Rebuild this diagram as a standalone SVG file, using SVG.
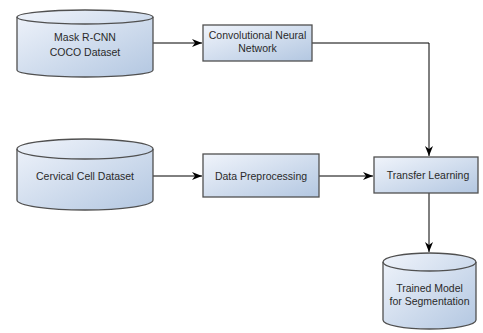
<svg xmlns="http://www.w3.org/2000/svg" width="483" height="333" viewBox="0 0 483 333">
<style>
.shape{fill:url(#g);stroke:#505050;stroke-width:1.3}
.edge{fill:none;stroke:#000;stroke-width:1}
text{font-family:"Liberation Sans",Arial,sans-serif;font-size:10.5px;fill:#2a2a2a;text-anchor:middle}
</style>
<defs>
<linearGradient id="g" x1="0" y1="0" x2="1" y2="1">
<stop offset="0" stop-color="#f0f4fb"/>
<stop offset="1" stop-color="#b3c7e1"/>
</linearGradient>
<marker id="ah" markerUnits="userSpaceOnUse" markerWidth="11" markerHeight="9" refX="10" refY="4" orient="auto">
<path d="M0,0 L10,4 L0,8 L3,4 Z" fill="#000"/>
</marker>
</defs>
<rect width="483" height="333" fill="#fff"/>
<g id="connectors">
<path class="edge" d="M153,43 H202" marker-end="url(#ah)"/>
<path class="edge" d="M312,43 H429 V156" marker-end="url(#ah)"/>
<path class="edge" d="M153,176 H202" marker-end="url(#ah)"/>
<path class="edge" d="M319,176 H373" marker-end="url(#ah)"/>
<path class="edge" d="M429,193 V252" marker-end="url(#ah)"/>
</g>
<g id="mask-rcnn">
<path class="shape" d="M17,17 A68,7 0 0 1 153,17 L153,70 A68,7 0 0 1 17,70 Z"/>
<path class="shape" style="fill:none" d="M17,17 A68,7 0 0 0 153,17"/>
<text x="85" y="41">Mask R-CNN</text>
<text x="85" y="56">COCO Dataset</text>
</g>
<g id="cnn">
<rect class="shape" x="203" y="25" width="109" height="36"/>
<text x="257.5" y="39">Convolutional Neural</text>
<text x="257.5" y="52">Network</text>
</g>
<g id="cervical">
<path class="shape" d="M17,149 A68,10 0 0 1 153,149 L153,200 A68,10 0 0 1 17,200 Z"/>
<path class="shape" style="fill:none" d="M17,149 A68,10 0 0 0 153,149"/>
<text x="85" y="180">Cervical Cell Dataset</text>
</g>
<g id="preprocessing">
<rect class="shape" x="203" y="154" width="116" height="43"/>
<text x="261" y="180">Data Preprocessing</text>
</g>
<g id="transfer">
<rect class="shape" x="374" y="157" width="104" height="36"/>
<text x="428" y="179">Transfer Learning</text>
</g>
<g id="trained">
<path class="shape" d="M383,262 A46.5,9 0 0 1 476,262 L476,320 A46.5,9 0 0 1 383,320 Z"/>
<path class="shape" style="fill:none" d="M383,262 A46.5,9 0 0 0 476,262"/>
<text x="429.5" y="292">Trained Model</text>
<text x="429.5" y="305">for Segmentation</text>
</g>
</svg>
